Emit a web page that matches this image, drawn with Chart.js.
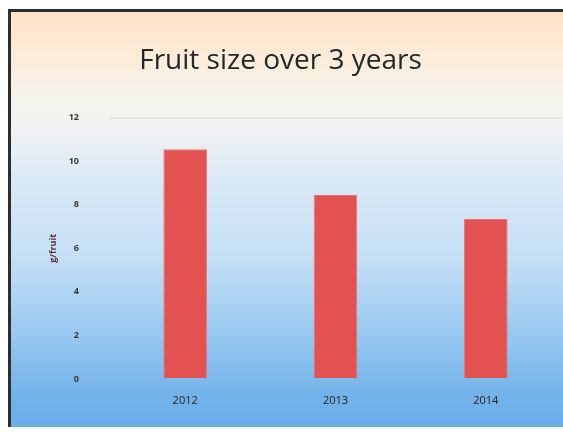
<!DOCTYPE html>
<html>
<head>
<meta charset="utf-8">
<script src="https://cdn.jsdelivr.net/npm/chart.js@4"></script>
<style>
  html, body { margin: 0; padding: 0; background: #fff; }
  #wrap { position: relative; width: 563px; height: 432px; }
</style>
</head>
<body>
<div id="wrap"><canvas id="chart" width="563" height="432"></canvas></div>
<script>
const years = ["2012", "2013", "2014"];
const fruitSize = [10.55, 8.45, 7.35];
const yTicks = [0, 2, 4, 6, 8, 10, 12];

// slide background: peach at the top fading to blue at the bottom
const slideBackground = {
  id: "slideBackground",
  beforeDraw(chart) {
    const ctx = chart.ctx;
    ctx.save();
    ctx.fillStyle = "#ffffff";
    ctx.fillRect(0, 0, chart.width, chart.height);
    const g = ctx.createLinearGradient(0, 9, 0, 427);
    g.addColorStop(0, "#fde3c6");
    g.addColorStop(0.1, "#fdebd6");
    g.addColorStop(0.22, "#f5f3ee");
    g.addColorStop(0.3, "#eff1f3");
    g.addColorStop(0.4, "#dce9f6");
    g.addColorStop(0.6, "#c4dff5");
    g.addColorStop(0.78, "#98c8f0");
    g.addColorStop(0.92, "#74b3ea");
    g.addColorStop(1, "#6aaee8");
    ctx.fillStyle = g;
    ctx.fillRect(8, 9, chart.width - 8, 418);
    ctx.fillStyle = "#2e2e2e";
    ctx.fillRect(8, 9, 3, 418);
    ctx.fillRect(8, 9, chart.width - 8, 3);
    ctx.restore();
  },
};

new Chart(document.getElementById("chart"), {
  type: "bar",
  data: {
    labels: years,
    datasets: [
      {
        data: fruitSize,
        backgroundColor: "#e25250",
        borderColor: "#f07070",
        borderWidth: 1,
        barPercentage: 0.58,
        categoryPercentage: 0.5,
      },
    ],
  },
  options: {
    responsive: false,
    animation: false,
    layout: { padding: { top: 0, right: 2, bottom: 0, left: 0 } },
    plugins: {
      legend: { display: false },
      tooltip: { enabled: false },
      title: {
        display: true,
        text: "Fruit size over 3 years",
        color: "#262626",
        font: { family: "Open Sans", size: 28, weight: "normal" },
        padding: { top: 44, bottom: 40 },
      },
    },
    scales: {
      x: {
        grid: { display: false, drawTicks: false },
        border: { display: false },
        ticks: {
          color: "#222222",
          font: { family: "Open Sans", size: 11 },
          padding: 15,
        },
        afterFit(scale) {
          scale.height = 53;
        },
      },
      y: {
        min: 0,
        max: 12,
        afterBuildTicks(scale) {
          scale.ticks = yTicks.map((v) => ({ value: v }));
        },
        grid: {
          drawTicks: false,
          color: (c) => (c.tick && c.tick.value === 12 ? "#e2e2e2" : "rgba(0,0,0,0)"),
          lineWidth: 2,
        },
        border: { display: false },
        ticks: {
          color: "#3a3a3a",
          font: { family: "Open Sans", size: 9, weight: "bold" },
          padding: 31,
        },
        title: {
          display: true,
          text: "g/fruit",
          color: "#5a2f45",
          font: { family: "Open Sans", size: 9, weight: "bold" },
          padding: { top: 48, bottom: 0 },
        },
        afterFit(scale) {
          scale.width = 110;
        },
      },
    },
  },
  plugins: [slideBackground],
});
</script>
</body>
</html>
